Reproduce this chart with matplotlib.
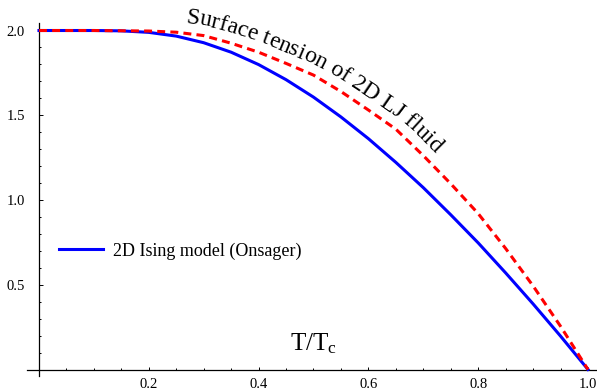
import numpy as np
import matplotlib
matplotlib.use("Agg")
import matplotlib.pyplot as plt
from matplotlib.ticker import FixedLocator, NullFormatter
from matplotlib.font_manager import FontProperties
from matplotlib.transforms import IdentityTransform

plt.rcParams["font.family"] = ["Liberation Serif", "DejaVu Serif"]
plt.rcParams["mathtext.fontset"] = "custom"
plt.rcParams["mathtext.rm"] = "Liberation Serif"
plt.rcParams["mathtext.it"] = "Liberation Serif:italic"

# 2D Ising (Onsager) surface tension vs T/Tc
t_ising = [0.0, 0.05, 0.1, 0.15, 0.2, 0.25, 0.3, 0.35, 0.4, 0.45, 0.5,
           0.55, 0.6, 0.65, 0.7, 0.75, 0.8, 0.85, 0.9, 0.95, 1.0]
sigma_ising = [2.0, 2.0, 2.0, 1.998, 1.989, 1.967, 1.928, 1.872, 1.799, 1.710, 1.607,
               1.490, 1.362, 1.222, 1.073, 0.913, 0.747, 0.570, 0.387, 0.197, 0.0]

# 2D LJ fluid surface tension (dashed curve)
t_lj = [0.0, 0.1, 0.2, 0.25, 0.3, 0.35, 0.4, 0.45, 0.5, 0.55, 0.6,
        0.65, 0.7, 0.75, 0.8, 0.85, 0.9, 0.95, 1.0]
sigma_lj = [2.0, 2.0, 1.997, 1.99, 1.97, 1.925, 1.872, 1.806, 1.737, 1.64, 1.531,
            1.418, 1.262, 1.096, 0.92, 0.714, 0.493, 0.255, 0.0]

x_ticks = [0.2, 0.4, 0.6, 0.8, 1.0]
y_ticks = [0.5, 1.0, 1.5, 2.0]
x_label = "T/T$_{\\mathrm{c}}$"
legend_label = "2D Ising model (Onsager)"
curve_label = "Surface tension of 2D LJ fluid"


def text_along_curve(ax, text, xs, ys, x_start_px, offset_px, size):
    fig = ax.figure
    fig.canvas.draw()
    renderer = fig.canvas.get_renderer()
    prop = FontProperties(family="Liberation Serif", size=size)

    pts = ax.transData.transform(np.column_stack([xs, ys]))
    seg = np.hypot(*np.diff(pts, axis=0).T)
    s = np.concatenate([[0], np.cumsum(seg)])
    s_fine = np.linspace(0, s[-1], 3000)
    px = np.interp(s_fine, s, pts[:, 0])
    py = np.interp(s_fine, s, pts[:, 1])
    tx = np.gradient(px)
    ty = np.gradient(py)
    k = np.ones(151) / 151
    tx = np.convolve(np.pad(tx, 75, mode="edge"), k, mode="valid")
    ty = np.convolve(np.pad(ty, 75, mode="edge"), k, mode="valid")
    nrm = np.hypot(tx, ty)
    tx, ty = tx / nrm, ty / nrm
    ox = px - ty * offset_px
    oy = py + tx * offset_px
    so = np.concatenate([[0], np.cumsum(np.hypot(np.diff(ox), np.diff(oy)))])
    ang = np.degrees(np.arctan2(ty, tx))

    def width(txt):
        return renderer.get_text_width_height_descent(txt, prop, ismath=False)[0]

    bar = width("|")
    order = np.argsort(ox)
    s0 = np.interp(x_start_px, ox[order], so[order])
    for i, ch in enumerate(text):
        if ch == " ":
            continue
        left = width(text[:i] + "|") - bar
        right = width(text[:i + 1] + "|") - bar
        pos = s0 + 0.5 * (left + right)
        x = np.interp(pos, so, ox)
        y = np.interp(pos, so, oy)
        a = np.interp(pos, so, ang)
        ax.text(x, y, ch, transform=IdentityTransform(), rotation=a,
                rotation_mode="anchor", ha="center", va="baseline",
                fontproperties=prop)


fig = plt.figure(figsize=(5.97, 3.92), dpi=100)
ax = fig.add_axes([0, 0, 1, 1])
ax.set_xlim(-0.071, 1.0164)
ax.set_ylim(-0.1327, 2.18)

ax.plot(t_ising, sigma_ising, color="#0000ff", lw=2.2, label=legend_label, zorder=3)
ax.plot(t_lj, sigma_lj, color="#ff0000", lw=2.2, linestyle=(0, (2.6, 1.7)), zorder=4)

for side in ["top", "right"]:
    ax.spines[side].set_visible(False)
ax.spines["left"].set_position(("data", 0))
ax.spines["bottom"].set_position(("data", 0))
ax.spines["left"].set_bounds(-0.04, 2.045)
ax.spines["bottom"].set_bounds(-0.022, 1.0164)
for side in ["left", "bottom"]:
    ax.spines[side].set_linewidth(0.9)

ax.xaxis.set_major_locator(FixedLocator(x_ticks))
ax.yaxis.set_major_locator(FixedLocator(y_ticks))
ax.xaxis.set_minor_locator(FixedLocator(np.arange(0.05, 1.01, 0.05)))
ax.yaxis.set_minor_locator(FixedLocator(np.arange(0.1, 2.05, 0.1)))
ax.xaxis.set_minor_formatter(NullFormatter())
ax.yaxis.set_minor_formatter(NullFormatter())
ax.set_xticklabels(["%.1f" % v for v in x_ticks])
ax.set_yticklabels(["%.1f" % v for v in y_ticks])
ax.tick_params(axis="x", which="major", direction="in", length=2.5, width=0.7,
               labelsize=10.5, pad=6)
ax.tick_params(axis="y", which="major", direction="in", length=3, width=0.7,
               labelsize=10.5, pad=10)
ax.tick_params(which="minor", direction="in", length=1.5, width=0.7)

ax.text(0.5, 0.115, x_label, fontsize=18, ha="center", va="baseline")

ax.legend(loc="center left", bbox_to_anchor=(59 / 597, 1 - 251 / 392),
          bbox_transform=fig.transFigure, frameon=False, fontsize=13,
          handlelength=2.45, handletextpad=0.55, borderpad=0, borderaxespad=0)

text_along_curve(ax, curve_label, t_lj, sigma_lj, 185, 10, 17)

fig.savefig("out.png", dpi=100)
